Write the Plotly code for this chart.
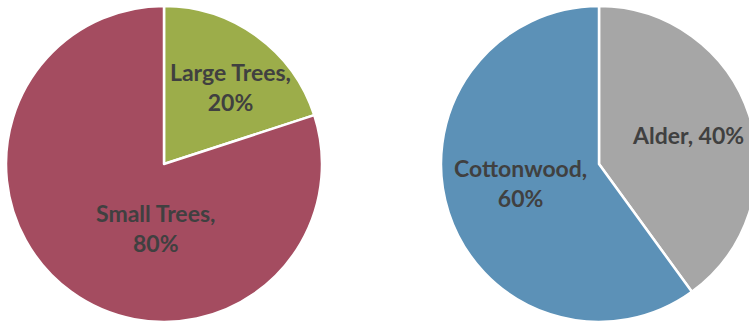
import plotly.graph_objects as go

# Data
size_labels = ["Large Trees", "Small Trees"]
size_values = [20, 80]
species_labels = ["Alder", "Cottonwood"]
species_values = [40, 60]

size_colors = ["#9CAD4A", "#A44C60"]
species_colors = ["#A6A6A6", "#5C91B7"]

# label anchor points (pixels from top-left) and line-break style
size_label_pos = [(230, 87), (155, 228)]
species_label_pos = [(688, 135), (520, 183)]
size_label_break = ["<br>", "<br>"]
species_label_break = [" ", "<br>"]

W, H = 760, 322

def dom_x(a, b):
    return [a / W, b / W]

def dom_y(top, bottom):
    return [1 - bottom / H, 1 - top / H]

font = dict(family="Lato", size=23, color="#404040")

fig = go.Figure()
fig.add_trace(go.Pie(
    labels=size_labels, values=size_values, sort=False, direction="clockwise",
    rotation=0, marker=dict(colors=size_colors, line=dict(color="white", width=2.5)),
    textinfo="none", domain=dict(x=dom_x(6, 322), y=dom_y(6, 322)),
    showlegend=False, hoverinfo="skip",
))
fig.add_trace(go.Pie(
    labels=species_labels, values=species_values, sort=False, direction="clockwise",
    rotation=0, marker=dict(colors=species_colors, line=dict(color="white", width=2.5)),
    textinfo="none", domain=dict(x=dom_x(441, 757), y=dom_y(6, 322)),
    showlegend=False, hoverinfo="skip",
))

annotations = []
for labels, values, pos, brk in [
    (size_labels, size_values, size_label_pos, size_label_break),
    (species_labels, species_values, species_label_pos, species_label_break),
]:
    total = sum(values)
    for lab, v, (px, py), b in zip(labels, values, pos, brk):
        pct = round(100 * v / total)
        annotations.append(dict(
            text=f"<b>{lab},{b}{pct}%</b>", x=px / W, y=1 - py / H,
            xref="paper", yref="paper", xanchor="center", yanchor="middle",
            showarrow=False, font=font, align="center",
        ))

fig.update_layout(
    width=W, height=H, margin=dict(l=0, r=0, t=0, b=0, pad=0),
    paper_bgcolor="white", plot_bgcolor="white", annotations=annotations,
)
fig.write_html("out.html", config={"displayModeBar": False},
               post_script="document.body.style.margin='0';document.body.style.overflow='hidden';")
